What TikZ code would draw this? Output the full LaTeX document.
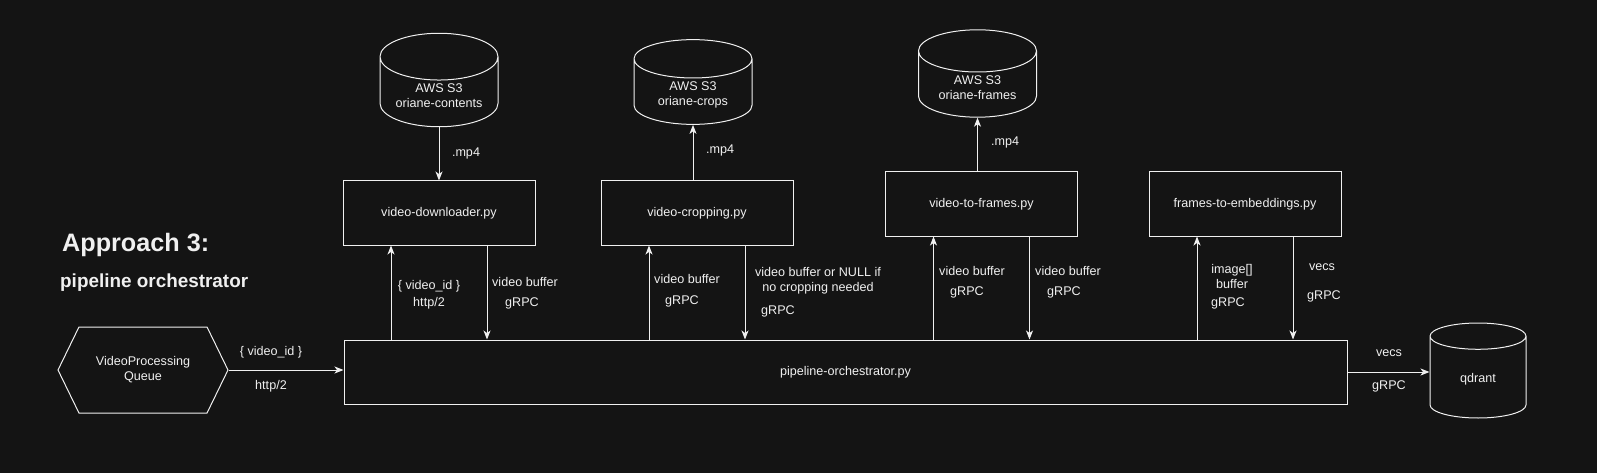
\documentclass[tikz,border=0pt]{standalone}
\usepackage{fontspec}
\setmainfont{Liberation Sans}
\usetikzlibrary{shapes.geometric,shapes.symbols,arrows.meta}
\definecolor{bg}{HTML}{141414}
\definecolor{ink}{HTML}{F0F0F0}
\tikzset{
  every node/.style={font=\fontsize{12.6}{15}\selectfont, text=ink},
  module/.style={draw=ink, line width=1pt, minimum width=192pt, minimum height=64pt},
  bucket/.style={cylinder, shape border rotate=90, anchor=shape center, draw=ink, line width=1pt,
    aspect=0.5, minimum width=118pt, minimum height=84pt, align=center},
  queuebox/.style={signal, signal to=west and east, signal pointer angle=128, draw=ink, line width=1pt,
    minimum width=170pt, minimum height=86pt, align=center},
  flow/.style={draw=ink, line width=1pt, -{Stealth[length=9pt,width=7pt,inset=2.5pt]}},
  lbl/.style={inner sep=0pt, align=center},
}
\begin{document}
\begin{tikzpicture}[x=1pt,y=-1pt]
\useasboundingbox[fill=bg] (0,0) rectangle (1597,473);

\node[anchor=west, inner sep=0pt, font=\fontsize{25.2}{30}\selectfont\bfseries] (title) at (62,245) {Approach 3:};
\node[anchor=west, inner sep=0pt, font=\fontsize{18.9}{23}\selectfont\bfseries] (subtitle) at (60,283) {pipeline orchestrator};

% services
\node[queuebox] (queue) at (143,370) {VideoProcessing\\Queue};
\node[module, minimum width=1003pt] (orch) at (845.5,372) {pipeline-orchestrator.py};
\node[module] (dl) at (439,213) {video-downloader.py};
\node[module] (crop) at (697,213) {video-cropping.py};
\node[module] (frm) at (981.5,204) {video-to-frames.py};
\node[module] (emb) at (1245,204) {frames-to-embeddings.py};

% storage
\node[bucket] (contents) at (439,80) {AWS S3\\oriane-contents};
\node[bucket] (crops) at (693,82) {AWS S3\\oriane-crops};
\node[bucket, minimum height=85pt] (frames) at (977.5,73.5) {AWS S3\\oriane-frames};
\node[bucket, aspect=0.62, minimum width=96pt, minimum height=95pt] (qdrant) at (1478,370.5) {qdrant};

% connectors
\draw[flow] (contents.south) -- (dl.north -| contents.south);
\draw[flow] (crop.north -| crops.south) -- (crops.south);
\draw[flow] (frm.north -| frames.south) -- (frames.south);
\draw[flow] (queue.east) -- (queue.east -| orch.west);
\draw[flow] (orch.east) -- (orch.east -| qdrant.west);
\foreach \m in {dl,crop,frm,emb} {
  \draw[flow] ([xshift=-48pt]\m.south |- orch.north) -- ([xshift=-48pt]\m.south);
  \draw[flow] ([xshift=48pt]\m.south) -- ([xshift=48pt]\m.south |- orch.north);
}

% labels
\node[lbl] (mp4a) at (466,153) {.mp4};
\node[lbl] (mp4b) at (720,150) {.mp4};
\node[lbl] (mp4c) at (1005,142) {.mp4};
\node[lbl] (qid) at (271,352) {\{ video\_id \}};
\node[lbl] (qhttp) at (271,386) {http/2};
\node[lbl] (dlid) at (429,286) {\{ video\_id \}};
\node[lbl] (dlhttp) at (429,303) {http/2};
\node[lbl] (dlbuf) at (525,282) {video buffer};
\node[lbl] (dlrpc) at (522,303) {gRPC};
\node[lbl] (cropin) at (687,279) {video buffer};
\node[lbl] (cropinrpc) at (682,301) {gRPC};
\node[lbl] (cropout) at (818,280.5) {video buffer or NULL if\\no cropping needed};
\node[lbl] (cropoutrpc) at (778,311) {gRPC};
\node[lbl] (frmin) at (972,271) {video buffer};
\node[lbl] (frminrpc) at (967,292) {gRPC};
\node[lbl] (frmout) at (1068,271) {video buffer};
\node[lbl] (frmoutrpc) at (1064,292) {gRPC};
\node[lbl] (embin) at (1232,276) {image[]\\buffer};
\node[lbl] (embinrpc) at (1228,303) {gRPC};
\node[lbl] (embout) at (1322,267) {vecs};
\node[lbl] (emboutrpc) at (1324,296) {gRPC};
\node[lbl] (qdvec) at (1389,353) {vecs};
\node[lbl] (qdrpc) at (1389,386) {gRPC};

\end{tikzpicture}
\end{document}
